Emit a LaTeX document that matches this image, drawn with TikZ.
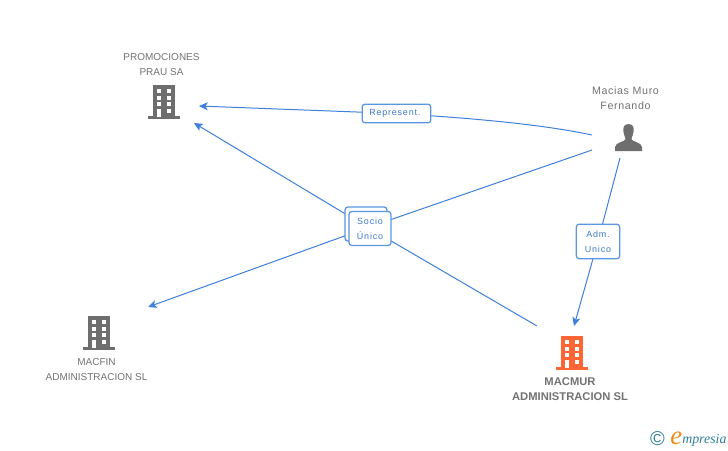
\documentclass[tikz,border=0pt]{standalone}
\usepackage{fontspec}
\setmainfont{Liberation Sans}
\newfontfamily\spaced[LetterSpace=6]{Liberation Sans}
\newfontfamily\lblfont[LetterSpace=9]{Liberation Sans}
\newfontfamily\logofont{Liberation Serif}
\usetikzlibrary{arrows.meta}
\definecolor{linkblue}{HTML}{3F7FDD}
\definecolor{boxblue}{HTML}{5B96E2}
\definecolor{lbltext}{HTML}{3A78CC}
\definecolor{icongray}{HTML}{6E6E6E}
\definecolor{textgray}{HTML}{727272}
\definecolor{iconorange}{HTML}{FF6534}
\definecolor{logoteal}{HTML}{2F7F99}
\definecolor{logoorange}{HTML}{F08A1E}
\tikzset{
  x=0.75pt,y=-0.75pt,
  link/.style={draw=linkblue,line width=0.75pt},
  arrowed/.style={link,-{Stealth[length=6.5pt,width=6pt,inset=1.6pt]}},
  tag/.style={draw=boxblue,line width=0.95pt,rounded corners=2.2pt,fill=white,inner sep=0pt,
    font=\lblfont\fontsize{6.7pt}{11.2pt}\selectfont,text=lbltext,align=center},
  caption/.style={font=\fontsize{7.5pt}{11.2pt}\selectfont,text=textgray,align=center,inner sep=0pt},
  spacedcaption/.style={font=\spaced\fontsize{8pt}{11.4pt}\selectfont,text=textgray,align=center,inner sep=0pt},
  boldcaption/.style={font=\bfseries\fontsize{8.4pt}{11.6pt}\selectfont,text=textgray,align=center,inner sep=0pt},
  pics/tower/.style={code={
    \fill[#1] (-11,0) rectangle (11,31);
    \fill[#1] (-16,31) rectangle (16,34);
    \foreach \yy in {4,11,17}{
      \fill[white] (-7,\yy) rectangle (-3,\yy+4);
      \fill[white] (3,\yy) rectangle (7,\yy+4);
    }
    \fill[white] (-7,24) rectangle (-3,32);
    \fill[white] (3,24) rectangle (7,28);
  }},
}
\begin{document}
\begin{tikzpicture}
\useasboundingbox (0,0) rectangle (728,450);
% free ends of the connectors
\coordinate (repStart) at (592,135);
\coordinate (repEnd) at (199,106);
\coordinate (socioA) at (592,150);
\coordinate (socioAEnd) at (148,307);
\coordinate (socioB) at (537,326);
\coordinate (socioBEnd) at (194,123);
\coordinate (admStart) at (620,158);
\coordinate (admEnd) at (574,326);
\coordinate (repMid) at (396,113.5);
\coordinate (socioMid) at (368,227.5);
\coordinate (admMid) at (598,241);

\draw[arrowed] (socioA) -- (socioMid) -- (socioAEnd);
\draw[arrowed] (socioB) -- (socioMid) -- (socioBEnd);
\draw[arrowed] (admStart) -- (admMid) -- (admEnd);
\draw[arrowed] (repStart) .. controls (540,124) and (470,118) .. (repMid) -- (repEnd);

\node[tag,minimum width=31.5pt,minimum height=25.5pt] (socioBack) at (366,224) {};
\node[tag,minimum width=31.5pt,minimum height=25.5pt] (socio) at (370,228.5) {Socio\\Único};
\node[tag,minimum width=51.5pt,minimum height=14pt] (rep) at (396.5,113.5) {\kern-2.5pt Represent.};
\node[tag,minimum width=32.5pt,minimum height=26pt] (adm) at (598,241.5) {Adm.\\Unico};

\node[caption] (prau) at (161.5,64.5) {PROMOCIONES\\PRAU SA};
\pic at (164,85) {tower=icongray};
\pic at (99,316) {tower=icongray};
\node[caption] (macfin) at (96.5,370) {MACFIN\\ADMINISTRACION SL};
\pic at (572,336) {tower=iconorange};
\node[boldcaption] (macmur) at (570,389) {MACMUR\\ADMINISTRACION SL};
\node[spacedcaption] (macias) at (625.5,98) {Macias Muro\\Fernando};

% person
\fill[icongray] (628.5,124) .. controls (623,124) and (623,129) .. (623.5,132)
  .. controls (624,136) and (625.5,137) .. (625.5,139)
  .. controls (625,142) and (615.5,142) .. (615,147) -- (615,151) -- (642,151) -- (642,147)
  .. controls (641.5,142) and (632,142) .. (631.5,139)
  .. controls (631.5,137) and (633,136) .. (633.5,132)
  .. controls (634,129) and (634,124) .. (628.5,124) -- cycle;

% logo
\node[text=logoteal,font=\fontsize{15pt}{16pt}\selectfont,inner sep=0pt] (copy) at (657.5,438.5) {\textcopyright};
\node[text=logoorange,font=\logofont\itshape\fontsize{20pt}{21pt}\selectfont,inner sep=0pt,anchor=base west] (logoe) at (670,444) {e};
\node[text=logoteal,font=\logofont\itshape\fontsize{10.4pt}{11pt}\selectfont,inner sep=0pt,anchor=base west] (logow) at (682,443) {mpresia};
\end{tikzpicture}
\end{document}
